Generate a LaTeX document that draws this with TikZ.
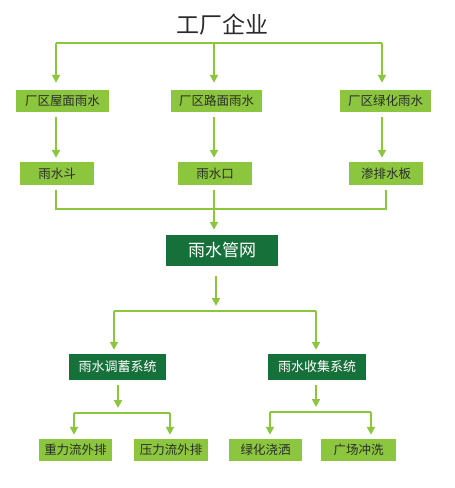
\documentclass[tikz,border=0pt]{standalone}
\usepackage{fontspec}
\newfontfamily\cjk{Noto Sans CJK SC}
\usetikzlibrary{arrows.meta,positioning}
\definecolor{leaf}{HTML}{8CC63F}
\definecolor{pine}{HTML}{16703A}
\definecolor{ink}{HTML}{2B2B2B}

\begin{document}
\begin{tikzpicture}[x=1pt, y=-1pt, font=\cjk, box/.style={rectangle, fill=leaf, text=ink, inner sep=0pt, minimum height=22pt, font=\cjk\fontsize{12.5}{14}\selectfont}, darkbox/.style={rectangle, fill=pine, text=white, inner sep=0pt, font=\cjk\fontsize{13}{15}\selectfont}, arrow/.style={-{Triangle[length=8pt, width=8pt]}, draw=leaf, line width=2pt}, wire/.style={draw=leaf, line width=2pt}]
\useasboundingbox (0,0) rectangle (455,488);
\node[font=\cjk\fontsize{23}{26}\selectfont, text=ink] (T) at (222,25) {工厂企业};
\node[box, minimum width=93pt] (roof) at (62.5,101) {厂区屋面雨水};
\node[box, minimum width=91pt] (road) at (216.5,101) {厂区路面雨水};
\node[box, minimum width=91pt] (green) at (385.5,101) {厂区绿化雨水};
\node[box, minimum width=74pt, minimum height=23pt] (hopper) at (57,173.5) {雨水斗};
\node[box, minimum width=74pt, minimum height=23pt] (inlet) at (215,173.5) {雨水口};
\node[box, minimum width=74pt, minimum height=23pt] (drain) at (386,173.5) {渗排水板};
\node[darkbox, minimum width=112pt, minimum height=31pt, font=\cjk\fontsize{17}{20}\selectfont] (net) at (222,250.5) {雨水管网};
\node[darkbox, minimum width=97pt, minimum height=26pt] (store) at (117.5,367) {雨水调蓄系统};
\node[darkbox, minimum width=98pt, minimum height=26pt] (collect) at (317,367) {雨水收集系统};
\node[box, minimum width=73pt] (gravity) at (75.5,450) {重力流外排};
\node[box, minimum width=74pt] (press) at (171,450) {压力流外排};
\node[box, minimum width=73pt] (water) at (265.5,450) {绿化浇洒};
\node[box, minimum width=75pt] (wash) at (358.5,450) {广场冲洗};
% bus junctions
\coordinate (top) at (214,43);
\coordinate (t1) at (56,43);
\coordinate (t3) at (382,43);
\coordinate (mid) at (214,209);
\coordinate (low) at (216,311);
\coordinate (lowL) at (118,413);
\coordinate (lowR) at (316,412);
% factory to rain sources
\draw[wire] (t1) -- (t3);
\draw[arrow, shorten >=7pt] (t1) -- (t1 |- roof.north);
\draw[arrow, shorten >=7pt] (top) -- (top |- road.north);
\draw[arrow, shorten >=7pt] (t3) -- (t3 |- green.north);
\draw[arrow, shorten <=5pt, shorten >=4pt] (t1 |- roof.south) -- (t1 |- hopper.north);
\draw[arrow, shorten <=5pt, shorten >=4pt] (top |- road.south) -- (top |- inlet.north);
\draw[arrow, shorten <=5pt, shorten >=4pt] (t3 |- green.south) -- (t3 |- drain.north);
% into the pipe network
\draw[wire] ([yshift=-5pt]hopper.south -| t1) |- (mid) -| ([yshift=-5pt]drain.south);
\draw[wire] ([yshift=-5pt]inlet.south -| top) -- (mid);
\draw[arrow, shorten >=5pt] (mid) -- (mid |- net.north);
\draw[arrow, shorten <=10pt] (net.south -| low) -- ([yshift=5pt]low);
\draw[wire] ([xshift=-102pt]low) -- ([xshift=100pt]low);
\draw[arrow, shorten >=4pt] ([xshift=-102pt]low) -- ([xshift=-102pt]low |- store.north);
\draw[arrow, shorten >=4pt] ([xshift=100pt]low) -- ([xshift=100pt]low |- collect.north);
% regulating branch
\draw[arrow, shorten <=5pt] (store.south -| lowL) -- ([yshift=5pt]lowL);
\draw[wire] ([xshift=-44pt]lowL) -- ([xshift=52pt]lowL);
\draw[arrow, shorten >=4pt] ([xshift=-44pt]lowL) -- ([xshift=-44pt]lowL |- gravity.north);
\draw[arrow, shorten >=4pt] ([xshift=52pt]lowL) -- ([xshift=52pt]lowL |- press.north);
% collecting branch
\draw[arrow, shorten <=5pt] (collect.south -| lowR) -- ([yshift=5pt]lowR);
\draw[wire] ([xshift=-46pt]lowR) -- ([xshift=55pt]lowR);
\draw[arrow, shorten >=4pt] ([xshift=-46pt]lowR) -- ([xshift=-46pt]lowR |- water.north);
\draw[arrow, shorten >=4pt] ([xshift=55pt]lowR) -- ([xshift=55pt]lowR |- wash.north);
\end{tikzpicture}
\end{document}
